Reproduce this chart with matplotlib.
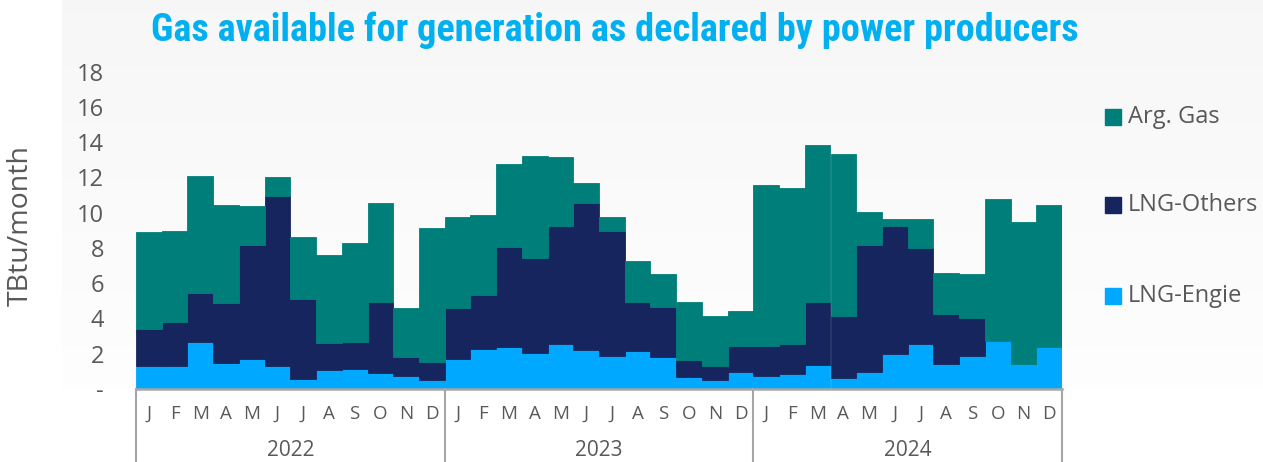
import matplotlib
matplotlib.use("Agg")
import matplotlib.pyplot as plt
from matplotlib import font_manager
import numpy as np

# monthly values, TBtu/month (Jan 2022 - Dec 2024)
months = ["J", "F", "M", "A", "M", "J", "J", "A", "S", "O", "N", "D"]
years = ["2022", "2023", "2024"]

lng_engie = [1.33, 1.33, 2.69, 1.46, 1.71, 1.33, 0.59, 1.10, 1.14, 0.93, 0.72, 0.53,
             1.72, 2.29, 2.37, 2.03, 2.56, 2.24, 1.89, 2.14, 1.84, 0.70, 0.53, 0.99,
             0.76, 0.83, 1.36, 0.64, 0.99, 2.01, 2.58, 1.44, 1.86, 2.71, 1.42, 2.39]
lng_others = [2.06, 2.48, 2.75, 3.41, 6.46, 9.62, 4.51, 1.50, 1.55, 4.00, 1.10, 0.99,
              2.90, 3.05, 5.68, 5.38, 6.70, 8.31, 7.07, 2.81, 2.82, 0.93, 0.78, 1.47,
              1.67, 1.71, 3.59, 3.51, 7.16, 7.22, 5.43, 2.82, 2.14, 0.0, 0.0, 0.0]
arg_gas = [5.51, 5.17, 6.66, 5.57, 2.21, 1.10, 3.50, 5.00, 5.61, 5.60, 2.77, 7.61,
           5.16, 4.51, 4.72, 5.83, 3.91, 1.14, 0.82, 2.31, 1.88, 3.28, 2.84, 1.99,
           9.15, 8.85, 8.92, 9.19, 1.89, 0.43, 1.63, 2.33, 2.54, 8.09, 8.07, 8.07]

legend_labels = ["Arg. Gas", "LNG-Others", "LNG-Engie"]
col_arg = "#007F7A"
col_oth = "#17255E"
col_eng = "#00A9FF"
grey_txt = "#595959"


def pick(names):
    for n in names:
        try:
            font_manager.findfont(font_manager.FontProperties(family=n), fallback_to_default=False)
            return n
        except Exception:
            pass
    return "DejaVu Sans"


body_font = pick(["Open Sans", "Lato", "Noto Sans"])
title_font = pick(["Liberation Sans Narrow", "Roboto Condensed", "Roboto"])

W, H = 1263, 462
fig = plt.figure(figsize=(W / 100, H / 100), dpi=100)
fig.patch.set_facecolor("white")

# light grey gradient panel behind the chart
bg = fig.add_axes([62 / W, (H - 389) / H, 1 - 62 / W, 389 / H], zorder=-5)
grad = np.linspace(0.968, 0.995, 100).reshape(-1, 1)
bg.imshow(np.dstack([grad, grad, grad]), aspect="auto", extent=[0, 1, 0, 1])
bg.axis("off")

left, right = 136 / W, 1062 / W
bottom, top = (H - 389) / H, (H - 71.7) / H
ax = fig.add_axes([left, bottom, right - left, top - bottom])
ax.patch.set_alpha(0)

x = np.arange(len(lng_engie))
eng = np.array(lng_engie)
oth = np.array(lng_others)
arg = np.array(arg_gas)
# thin edge in the same colour hides seams between neighbouring bars
ax.bar(x, eng, width=1.0, color=col_eng, edgecolor=col_eng, linewidth=0.6)
ax.bar(x, oth, width=1.0, bottom=eng, color=col_oth, edgecolor=col_oth,
       linewidth=[0.6 if v > 0 else 0 for v in oth])
ax.bar(x, arg, width=1.0, bottom=eng + oth, color=col_arg, edgecolor=col_arg, linewidth=0.6)

ax.set_xlim(-0.5, len(x) - 0.5)
ax.set_ylim(0, 18)
ax.set_yticks(range(0, 19, 2))
ax.set_yticklabels(["-"] + [str(v) for v in range(2, 19, 2)])
ax.tick_params(axis="y", length=0, pad=23, labelsize=17, labelcolor=grey_txt)
for lab in ax.get_yticklabels():
    lab.set_fontfamily(body_font)
ax.set_xticks([])
for s in ["top", "right", "left"]:
    ax.spines[s].set_visible(False)
ax.spines["bottom"].set_color("#A6A6A6")
ax.spines["bottom"].set_linewidth(1.8)
ax.spines["bottom"].set_zorder(5)

ax.set_ylabel("TBtu/month", fontsize=20.5, color=grey_txt, family=body_font)
ax.yaxis.set_label_coords((35 - 136) / 926, (389 - 225) / 317.3)

# two-level category axis
trans = ax.get_xaxis_transform()
for i in range(len(x)):
    ax.text(i, -(414 - 389) / 317.3, months[i % 12], transform=trans, ha="center",
            va="center", fontsize=13.5, color=grey_txt, family=body_font)
for k, yr in enumerate(years):
    ax.text(k * 12 + 5.5, -(450 - 389) / 317.3, yr, transform=trans, ha="center",
            va="center", fontsize=15, color=grey_txt, family=body_font)
for k in range(len(years) + 1):
    ax.plot([k * 12 - 0.5, k * 12 - 0.5], [0, -0.24], transform=trans, color="#A6A6A6",
            lw=1.5, clip_on=False)

fig.text(615 / W, 1 - 30 / H, "Gas available for generation as declared by power producers",
         ha="center", va="center", fontsize=27.5, fontweight="bold", color="#00B0F0",
         family=title_font)

# legend
leg_items = [(legend_labels[0], col_arg, 117), (legend_labels[1], col_oth, 205),
             (legend_labels[2], col_eng, 296)]
for name, c, yy in leg_items:
    fig.patches.append(plt.Rectangle((1105 / W, 1 - (yy + 8) / H), 16 / W, 16 / H,
                                     transform=fig.transFigure, color=c, figure=fig))
    fig.text(1128 / W, 1 - yy / H, name, ha="left", va="center", fontsize=17,
             color=grey_txt, family=body_font)

fig.savefig("out.png", dpi=100)
